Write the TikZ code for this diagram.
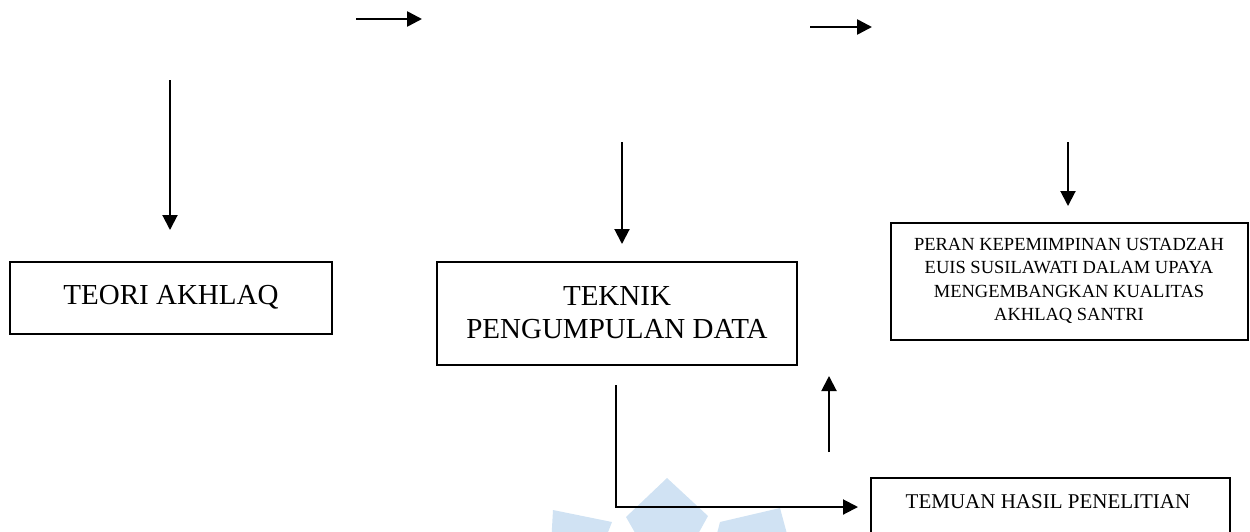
\documentclass[tikz,border=0pt]{standalone}
\usepackage{fontspec}
\setmainfont{Liberation Serif}
\usetikzlibrary{arrows.meta}
\definecolor{wm}{RGB}{208,226,243}
\begin{document}
\begin{tikzpicture}[x=1pt,y=-1pt,
  box/.style={draw,line width=2pt,inner sep=0pt,align=center},
  conn/.style={line width=2pt,-{Triangle[length=15pt,width=15pt]}},
  topconn/.style={line width=2.6pt,-{Triangle[length=15pt,width=15pt]}},
  big/.style={font=\fontsize{29}{33}\selectfont},
  small/.style={font=\fontsize{18.5}{23.3}\selectfont}]
\useasboundingbox (0,0) rectangle (1250,531);
% watermark
\fill[wm] (667,478) -- (708,516) -- (692,545) -- (642,545) -- (626,517) -- cycle;
\fill[wm] (553,510) -- (612,522) -- (603,545) -- (551,545) -- cycle;
\fill[wm] (720,522) -- (780,508) -- (790,545) -- (714,545) -- cycle;
% boxes
\node[box,big,minimum width=322pt,minimum height=72pt] (teori) at (171,297.5) {TEORI AKHLAQ};
\node[box,big,minimum width=360pt,minimum height=103pt] (teknik) at (617,313) {TEKNIK\\PENGUMPULAN DATA};
\node[box,small,minimum width=357pt,minimum height=117pt] (peran) at (1069,281) {PERAN KEPEMIMPINAN USTADZAH\\EUIS SUSILAWATI DALAM UPAYA\\MENGEMBANGKAN KUALITAS\\AKHLAQ SANTRI};
\node[box,minimum width=359pt,minimum height=70pt] (temuan) at (1050,513) {};
\node[font=\fontsize{21}{24}\selectfont] (temuantext) at (1048,502) {TEMUAN HASIL PENELITIAN};
% connector ends
\coordinate (t1a) at (356,19); \coordinate (t1b) at (422,19);
\coordinate (t2a) at (810,27); \coordinate (t2b) at (872,27);
\coordinate (v1a) at (170,80); \coordinate (v1b) at (170,230);
\coordinate (v2a) at (622,142); \coordinate (v2b) at (622,244);
\coordinate (v3a) at (1068,142); \coordinate (v3b) at (1068,206);
\coordinate (upa) at (829,452); \coordinate (upb) at (829,376);
\coordinate (la) at (616,385); \coordinate (lb) at (858,507);
% connectors
\draw[topconn] (t1a) -- (t1b);
\draw[topconn] (t2a) -- (t2b);
\draw[conn] (v1a) -- (v1b);
\draw[conn] (v2a) -- (v2b);
\draw[conn] (v3a) -- (v3b);
\draw[conn] (upa) -- (upb);
\draw[conn] (la) |- (lb);
\end{tikzpicture}
\end{document}
